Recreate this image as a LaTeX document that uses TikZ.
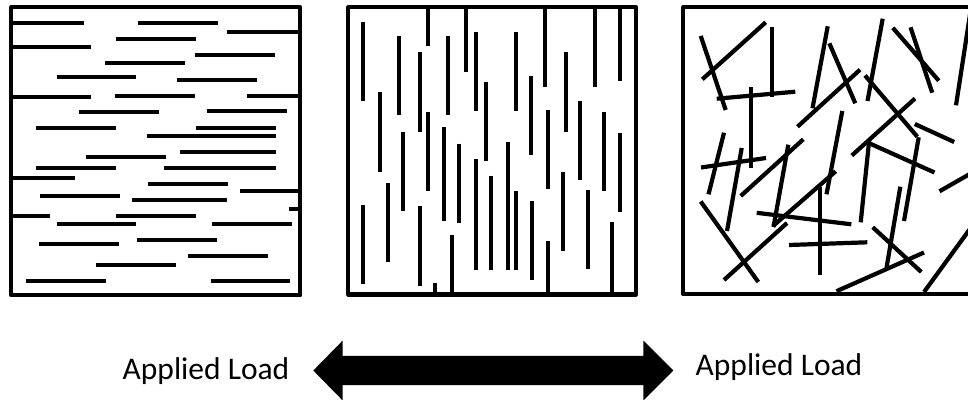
\documentclass[tikz,border=0pt]{standalone}
\usepackage{fontspec}
\setmainfont{Carlito}
\usepackage{tikz}
\usetikzlibrary{positioning}
\tikzset{
  panel/.style={
    draw=black,
    line width=4.2pt,
    line join=round
  },
  fiber/.style={
    draw=black,
    line width=4.2pt
  },
  load label/.style={
    anchor=base,
    inner sep=0pt,
    font=\fontsize{31.5}{38}\selectfont
  },
  load arrow/.style={
    fill=black
  }
}

\begin{document}
\begin{tikzpicture}[x=1pt, y=-1pt]

  \useasboundingbox (0,0) rectangle (968,399);
  \clip (0,0) rectangle (968,399);

  % Aligned fibres (parallel to the load)
  \draw[panel] (11.3,7.3) rectangle (300.3,295.3);
  \foreach \xa/\xb/\y in {13/84/23.3, 138/218/23.3, 227/300/31.7, 116/196/39.3,
      13/91/47.3, 195/275/55.3, 105/185/63.3, 57/136/77, 177/257/79.7,
      13/91/97.3, 115/195/95.7, 247/300/95.7, 79/159/111.7, 207/287/110.7,
      36/116/127.7, 196/276/127.7, 147/276/136, 180/276/152, 86/166/157.3,
      36/116/168, 164/276/168, 13/75/177.7, 148/228/184, 240/300/191.3,
      40/120/195.7, 132/227/200, 289/300/208.7, 13/50/216.3, 116/196/216.3,
      57/136/224.3, 212/292/224.3, 39/119/244, 137/217/240, 188/268/256.3,
      96/176/264.7, 26/106/280.7, 211/290/280.7}
    \draw[fiber] (\xa,\y) -- (\xb,\y);

  % Aligned fibres (across the load)
  \draw[panel] (348.3,7.3) rectangle (636,294.5);
  \foreach \x/\ya/\yb in {363.3/21.7/101, 427.7/7/46, 466/7/71.7, 545.3/7/86.7,
      595/7/86.7, 619.7/7/80.7, 399/35.7/115, 448/35.7/115, 476/32/111,
      515.7/32/111, 419.7/52.3/131.7, 565.7/52.3/131.7, 531/75.7/155,
      486.3/81.7/161, 380/92.3/171.7, 579.7/101/180.3, 427.7/111.7/190.7,
      547.7/110.3/189.3, 604/111.7/190.7, 444/127/221.3, 403/132/211.3,
      459.3/143.7/222.7, 508/142.3/270, 619.7/133.3/212.3, 476/159/270,
      563.3/171.7/251, 491.3/175.7/270, 515.7/191/270, 387.7/183.3/262.3,
      587.7/189.7/268.7, 363.3/205/284.3, 419.7/206.3/285.7, 532.3/201.3/280.3,
      451.7/234.7/294.5, 547.7/241/294.5, 612/221.7/294.5, 435/283.3/294.5}
    \draw[fiber] (\x,\ya) -- (\x,\yb);

  % Random fibres
  \draw[panel] (683.3,7.3) rectangle (990,294);
  \foreach \xa/\ya/\xb/\yb in {700.7/36/725.7/110, 702.3/79.3/765.7/22.3,
      772/27.3/772/97.3, 716.7/98.7/795.3/91.7, 751.3/87.3/751.3/168.3,
      701/167.5/766/158, 724/132.7/708.5/194.3, 741.7/148/727/231,
      700.7/201.5/758.3/282, 724/280/787/223, 740.7/196/803.3/139.3,
      788.3/144.7/773.5/227, 773/226/835.7/171.3, 756.7/212.8/851.3/224.3,
      789/245/867.3/242.3, 820/186.7/820/274.5, 827.7/26.3/812.5/108.3,
      829.3/43.3/855.3/103.3, 797.5/126.7/860/69.7, 842.3/111/826.5/194.3,
      882.7/18.7/867.5/101, 892.8/27.8/938.8/80.7, 910.5/27.3/932.2/92.7,
      865/75.5/917.3/136.7, 915/98.5/851.8/155.5, 914.8/124/954.2/142,
      869.3/139.3/860.7/222.3, 869.3/143.3/934.5/172.5, 918.7/137.3/904/221,
      900.3/186.7/886.5/268, 872.7/227.2/921.3/272, 836.5/291.2/924/252.5,
      924/292/975/222, 956/105.3/971/8, 939.5/191.3/975/171}
    \draw[fiber] (\xa,\ya) -- (\xb,\yb);

  % Load
  \node[load label] (loadL) at (206,379.3) {Applied Load};
  \node[load label] (loadR) at (779,375) {Applied Load};
  \fill[load arrow] (313.3,370.5) -- (342.7,340.5) -- (342.7,355.8)
    -- (643.3,355.8) -- (643.3,340.5) -- (673.3,370.5) -- (643.3,400.5)
    -- (643.3,385.2) -- (342.7,385.2) -- (342.7,400.5) -- cycle;

\end{tikzpicture}
\end{document}
